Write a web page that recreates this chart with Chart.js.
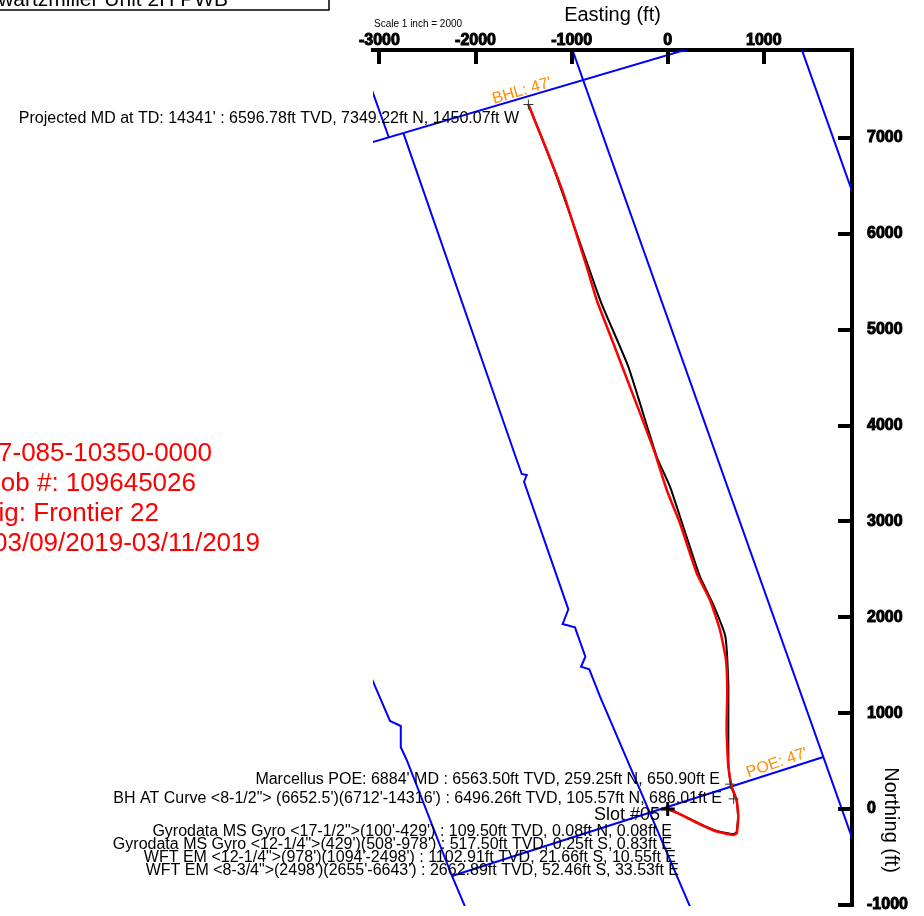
<!DOCTYPE html>
<html>
<head>
<meta charset="utf-8">
<title>Schwartzmiller Unit 2H PWB - Plan View</title>
<script src="https://cdn.jsdelivr.net/npm/chart.js@4.4.1/dist/chart.umd.min.js"></script>
<style>
  html, body { margin: 0; padding: 0; background: #fff; overflow: hidden; }
  canvas { display: block; }
</style>
</head>
<body>
<canvas id="planView" width="924" height="916"></canvas>
<script>
// Plan view, Easting / Northing in ft
const eastingTicks = [-3000, -2000, -1000, 0, 1000];
const northingTicks = [-1000, 0, 1000, 2000, 3000, 4000, 5000, 6000, 7000];

// actual survey (red)
const actualE = [0, 100, 336, 510, 683, 718, 735, 718, 666, 631, 614, 614, 620, 607, 544, 440, 302, 128, -10, -132, -340, -566, -739, -843, -1086, -1259, -1450.07];
const actualN = [0, -40, -160, -235, -271, -253, -80, 94, 233, 441, 790, 928, 1241, 1554, 1867, 2180, 2459, 2980, 3328, 3711, 4266, 4858, 5310, 5657, 6423, 6875, 7349.22];

// plan (black)
const planE = [0, 100, 336, 510, 680, 716, 732, 716, 660, 633, 631, 631, 600, 480, 336, 162, 24, -114, -410, -690, -850, -1180, -1445];
const planN = [0, -40, -155, -228, -262, -245, -80, 90, 240, 450, 928, 1311, 1800, 2120, 2423, 2945, 3362, 3675, 4614, 5275, 5727, 6666, 7340];

// hardlines / lease lines (blue)
const bhlLineE = [-3202, 544];
const bhlLineN = [6918, 8026];
const northStubE = [-3108, -2904];
const northStubN = [7584, 7010];
const westLineE = [-2751, -1571, -1519, -1467, -1495, -1034, -1093, -965, -857, -902, -816, -704, 274];
const westLineN = [7051, 3641, 3495, 3484, 3414, 2083, 1930, 1895, 1589, 1484, 1457, 1172, -1116];
const southWestE = [-3119, -2890, -2778, -2778, -2716, -2245, -2068];
const southWestN = [1450, 918, 866, 644, 511, -699, -1116];
const poeLineE = [-2245, 1620];
const poeLineN = [-699, 542];
const eastLineE = [-1028, 1959];
const eastLineN = [8022, -417];
const northEastE = [1356, 1959];
const northEastN = [8033, 6332];

// survey points marked with a cross
const markerE = [-1450.07, 650.90, 686.01];
const markerN = [7349.22, 259.25, 105.57];
const slotE = [0];
const slotN = [0];

const FONT = '"Liberation Sans", Arial, Helvetica, sans-serif';
Chart.defaults.font.family = FONT;

const toPoints = (xs, ys) => xs.map((v, i) => ({ x: v, y: ys[i] }));

function blueLine(xs, ys) {
    return {
        data: toPoints(xs, ys),
        showLine: true,
        borderColor: '#0000ff',
        borderWidth: 2,
        pointRadius: 0,
        tension: 0
    };
}

// text on the plot (pixel positions)
const notes = [
    { text: "Projected MD at TD: 14341' : 6596.78ft TVD, 7349.22ft N, 1450.07ft W", x: 519, y: 119, size: 16 },
    { text: "Marcellus POE: 6884' MD : 6563.50ft TVD, 259.25ft N, 650.90ft E", x: 720, y: 780, size: 16 },
    { text: 'BH AT Curve <8-1/2"> (6652.5\')(6712\'-14316\') : 6496.26ft TVD, 105.57ft N, 686.01ft E', x: 722, y: 799, size: 16 },
    { text: 'Slot #05', x: 660, y: 815, size: 18 },
    { text: 'Gyrodata MS Gyro <17-1/2">(100\'-429\') : 109.50ft TVD, 0.08ft N, 0.08ft E', x: 672, y: 832, size: 16 },
    { text: 'Gyrodata MS Gyro <12-1/4">(429\')(508\'-978\') : 517.50ft TVD, 0.25ft S, 0.83ft E', x: 672, y: 845, size: 16 },
    { text: 'WFT EM <12-1/4">(978\')(1094\'-2498\') : 1102.91ft TVD, 21.66ft S, 10.55ft E', x: 676, y: 858, size: 16 },
    { text: 'WFT EM <8-3/4">(2498\')(2655\'-6643\') : 2662.89ft TVD, 52.46ft S, 33.53ft E', x: 679, y: 871, size: 16 }
];
const wellInfo = [
    { text: 'API #: 47-085-10350-0000', x: 212, y: 454 },
    { text: 'Job #: 109645026', x: 196, y: 484 },
    { text: 'Rig: Frontier 22', x: 159, y: 514 },
    { text: 'Date: 03/09/2019-03/11/2019', x: 260, y: 544 }
];

const overlay = {
    id: 'overlay',
    afterDraw(chart) {
        const { ctx, chartArea: a, scales: { x, y } } = chart;
        ctx.save();

        // tick marks pointing into the plot
        ctx.strokeStyle = '#000';
        ctx.lineWidth = 4;
        ctx.beginPath();
        eastingTicks.forEach(v => {
            const px = Math.round(x.getPixelForValue(v));
            ctx.moveTo(px, a.top);
            ctx.lineTo(px, a.top + 14);
        });
        northingTicks.forEach(v => {
            const py = Math.round(y.getPixelForValue(v));
            ctx.moveTo(a.right - 14, py);
            ctx.lineTo(a.right, py);
        });
        ctx.stroke();

        // title box, cut off at the top left
        ctx.lineWidth = 1.5;
        ctx.strokeRect(-2, -30, 331, 40);
        ctx.fillStyle = '#000';
        ctx.textAlign = 'right';
        ctx.textBaseline = 'alphabetic';
        ctx.font = '21px ' + FONT;
        ctx.fillText('Schwartzmiller Unit 2H PWB', 228, 6);

        ctx.textAlign = 'left';
        ctx.font = '10px ' + FONT;
        ctx.fillText('Scale 1 inch = 2000', 374, 27);

        // vertical axis title
        ctx.save();
        ctx.translate(891, 820);
        ctx.rotate(Math.PI / 2);
        ctx.textAlign = 'center';
        ctx.textBaseline = 'middle';
        ctx.font = '20px ' + FONT;
        ctx.fillText('Northing (ft)', 0, 0);
        ctx.restore();

        // survey notes
        ctx.textAlign = 'right';
        ctx.textBaseline = 'middle';
        notes.forEach(n => {
            ctx.font = n.size + 'px ' + FONT;
            ctx.fillText(n.text, n.x, n.y);
        });

        // well info block
        ctx.fillStyle = '#ff0000';
        ctx.font = '26px ' + FONT;
        wellInfo.forEach(n => ctx.fillText(n.text, n.x, n.y));

        // hardline distance labels
        ctx.fillStyle = '#ff8c00';
        ctx.font = '16px ' + FONT;
        ctx.textAlign = 'center';
        [['BHL: 47\'', 522, 91, -16.4], ['POE: 47\'', 777, 763, -18.8]].forEach(([t, cx, cy, deg]) => {
            ctx.save();
            ctx.translate(cx, cy);
            ctx.rotate(deg * Math.PI / 180);
            ctx.fillText(t, 0, 0);
            ctx.restore();
        });

        ctx.restore();
    }
};

const tickFont = { family: FONT, size: 16, weight: 'bold' };

new Chart(document.getElementById('planView'), {
    type: 'scatter',
    data: {
        datasets: [
            {
                data: toPoints(slotE, slotN),
                pointStyle: 'cross',
                pointRadius: 7,
                borderColor: '#000',
                borderWidth: 3
            },
            {
                data: toPoints(markerE, markerN),
                pointStyle: 'cross',
                pointRadius: 5,
                borderColor: '#333',
                borderWidth: 1
            },
            {
                data: toPoints(actualE, actualN),
                showLine: true,
                borderColor: '#ff0000',
                borderWidth: 2.5,
                pointRadius: 0,
                tension: 0.15
            },
            {
                data: toPoints(planE, planN),
                showLine: true,
                borderColor: '#000',
                borderWidth: 2,
                pointRadius: 0,
                tension: 0.15
            },
            blueLine(bhlLineE, bhlLineN),
            blueLine(northStubE, northStubN),
            blueLine(westLineE, westLineN),
            blueLine(southWestE, southWestN),
            blueLine(poeLineE, poeLineN),
            blueLine(eastLineE, eastLineN),
            blueLine(northEastE, northEastN)
        ]
    },
    options: {
        responsive: false,
        animation: false,
        events: [],
        layout: { padding: { left: 373, right: 0, top: 0, bottom: 10 } },
        plugins: {
            legend: { display: false },
            tooltip: { enabled: false }
        },
        scales: {
            x: {
                type: 'linear',
                position: 'top',
                min: -3067,
                max: 1918,
                afterBuildTicks: s => { s.ticks = eastingTicks.map(v => ({ value: v })); },
                afterFit: s => { s.height = 50; s.paddingLeft = 0; s.paddingRight = 0; },
                grid: { display: false, drawTicks: false },
                border: { display: true, color: '#000', width: 4 },
                ticks: {
                    color: '#000',
                    font: tickFont,
                    textStrokeColor: '#000',
                    textStrokeWidth: 1,
                    padding: 0,
                    maxRotation: 0,
                    autoSkip: false,
                    callback: v => String(v)
                },
                title: {
                    display: true,
                    text: 'Easting (ft)',
                    color: '#000',
                    font: { family: FONT, size: 20 },
                    padding: { top: 3, bottom: 0 }
                }
            },
            y: {
                type: 'linear',
                position: 'right',
                min: -1012,
                max: 7918,
                afterBuildTicks: s => { s.ticks = northingTicks.map(v => ({ value: v })); },
                afterFit: s => { s.width = 72; s.paddingTop = 0; s.paddingBottom = 0; },
                grid: { display: false, drawTicks: false },
                border: { display: true, color: '#000', width: 4 },
                ticks: {
                    color: '#000',
                    font: tickFont,
                    textStrokeColor: '#000',
                    textStrokeWidth: 1,
                    padding: 15,
                    crossAlign: 'near',
                    autoSkip: false,
                    callback: v => String(v)
                }
            }
        }
    },
    plugins: [overlay]
});
</script>
</body>
</html>
